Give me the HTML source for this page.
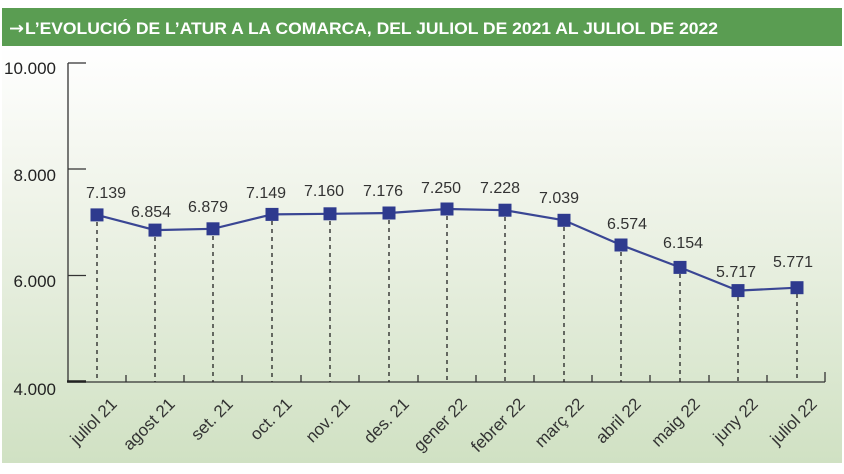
<!DOCTYPE html>
<html><head><meta charset="utf-8"><style>
html,body{margin:0;padding:0;background:#fff;}
svg{display:block;}
</style></head><body>
<svg width="844" height="474" viewBox="0 0 844 474" xmlns="http://www.w3.org/2000/svg">
<defs>
<linearGradient id="bg" x1="0" y1="0" x2="0" y2="1">
<stop offset="0" stop-color="#ffffff"/>
<stop offset="0.35" stop-color="#f0f4ea"/>
<stop offset="1" stop-color="#d0e1c3"/>
</linearGradient>
</defs>
<rect x="0" y="0" width="844" height="474" fill="#fff"/>
<rect x="2" y="46" width="840" height="417" fill="url(#bg)"/>
<rect x="2" y="8" width="840" height="38" fill="#5a9d52"/>
<text x="9" y="34" font-family="DejaVu Sans, sans-serif" font-weight="bold" font-size="17" fill="#fff" textLength="15" lengthAdjust="spacingAndGlyphs">→</text>
<text x="25" y="34" font-family="Liberation Sans, sans-serif" font-weight="bold" font-size="16.8" fill="#fff" textLength="693" lengthAdjust="spacingAndGlyphs">L’EVOLUCIÓ DE L’ATUR A LA COMARCA, DEL JULIOL DE 2021 AL JULIOL DE 2022</text>

<g font-family="Liberation Sans, sans-serif" font-size="17" fill="#222" text-anchor="end">
<text x="56" y="74">10.000</text>
<text x="56" y="181">8.000</text>
<text x="56" y="287">6.000</text>
<text x="56" y="395">4.000</text>
</g>

<g stroke="#333" stroke-width="1.3" fill="none">
<line x1="68" y1="63" x2="68" y2="382"/>
<line x1="68" y1="63" x2="86" y2="63"/>
<line x1="68" y1="169" x2="86" y2="169"/>
<line x1="68" y1="275.5" x2="86" y2="275.5"/>
<line x1="68" y1="382" x2="825" y2="382"/>
<line x1="825" y1="382" x2="825" y2="372"/>
</g>
<line x1="67" y1="381.5" x2="86" y2="381.5" stroke="#222" stroke-width="2.6"/>
<g stroke="#333" stroke-width="1.3">
<line x1="126" y1="382" x2="126" y2="375"/>
<line x1="184" y1="382" x2="184" y2="375"/>
<line x1="242" y1="382" x2="242" y2="375"/>
<line x1="301" y1="382" x2="301" y2="375"/>
<line x1="359" y1="382" x2="359" y2="375"/>
<line x1="418" y1="382" x2="418" y2="375"/>
<line x1="476" y1="382" x2="476" y2="375"/>
<line x1="534" y1="382" x2="534" y2="375"/>
<line x1="592" y1="382" x2="592" y2="375"/>
<line x1="650" y1="382" x2="650" y2="375"/>
<line x1="709" y1="382" x2="709" y2="375"/>
<line x1="767" y1="382" x2="767" y2="375"/>
</g>

<g stroke="#222" stroke-width="1.3" stroke-dasharray="4,4">
<line x1="97" y1="222" x2="97" y2="382"/>
<line x1="155" y1="237" x2="155" y2="382"/>
<line x1="213" y1="236" x2="213" y2="382"/>
<line x1="272" y1="221" x2="272" y2="382"/>
<line x1="330" y1="221" x2="330" y2="382"/>
<line x1="389" y1="220" x2="389" y2="382"/>
<line x1="447" y1="216" x2="447" y2="382"/>
<line x1="505" y1="217" x2="505" y2="382"/>
<line x1="564" y1="227" x2="564" y2="382"/>
<line x1="621" y1="252" x2="621" y2="382"/>
<line x1="680" y1="274" x2="680" y2="382"/>
<line x1="738" y1="297" x2="738" y2="382"/>
<line x1="797" y1="294" x2="797" y2="382"/>
</g>

<polyline fill="none" stroke="#3a4694" stroke-width="2.2" points="97,214.9 155,230.1 213,228.8 272,214.4 330,213.8 389,213 447,209 505,210.2 564,220.3 621,245 680,267.4 738,290.6 797,287.7"/>

<g fill="#2e3a8e">
<rect x="90.5" y="208.4" width="13" height="13"/>
<rect x="148.5" y="223.6" width="13" height="13"/>
<rect x="206.5" y="222.3" width="13" height="13"/>
<rect x="265.5" y="207.9" width="13" height="13"/>
<rect x="323.5" y="207.3" width="13" height="13"/>
<rect x="382.5" y="206.5" width="13" height="13"/>
<rect x="440.5" y="202.5" width="13" height="13"/>
<rect x="498.5" y="203.7" width="13" height="13"/>
<rect x="557.5" y="213.8" width="13" height="13"/>
<rect x="614.5" y="238.5" width="13" height="13"/>
<rect x="673.5" y="260.9" width="13" height="13"/>
<rect x="731.5" y="284.1" width="13" height="13"/>
<rect x="790.5" y="281.2" width="13" height="13"/>
</g>

<g font-family="Liberation Sans, sans-serif" font-size="16" fill="#333" text-anchor="middle">
<text x="106" y="198">7.139</text>
<text x="151" y="217">6.854</text>
<text x="208" y="212">6.879</text>
<text x="266" y="198">7.149</text>
<text x="324" y="196">7.160</text>
<text x="383" y="196">7.176</text>
<text x="441" y="193">7.250</text>
<text x="500" y="193">7.228</text>
<text x="559" y="203">7.039</text>
<text x="627" y="229">6.574</text>
<text x="683" y="248">6.154</text>
<text x="736" y="277">5.717</text>
<text x="793" y="267">5.771</text>
</g>

<g font-family="Liberation Sans, sans-serif" font-size="17" fill="#333" text-anchor="end">
<text transform="translate(118,405) rotate(-45)">juliol 21</text>
<text transform="translate(176,405) rotate(-45)">agost 21</text>
<text transform="translate(234,405) rotate(-45)">set. 21</text>
<text transform="translate(293,405) rotate(-45)">oct. 21</text>
<text transform="translate(351,405) rotate(-45)">nov. 21</text>
<text transform="translate(410,405) rotate(-45)">des. 21</text>
<text transform="translate(468,405) rotate(-45)">gener 22</text>
<text transform="translate(526,405) rotate(-45)">febrer 22</text>
<text transform="translate(585,405) rotate(-45)">març 22</text>
<text transform="translate(642,405) rotate(-45)">abril 22</text>
<text transform="translate(701,405) rotate(-45)">maig 22</text>
<text transform="translate(759,405) rotate(-45)">juny 22</text>
<text transform="translate(818,405) rotate(-45)">juliol 22</text>
</g>
</svg>
</body></html>
